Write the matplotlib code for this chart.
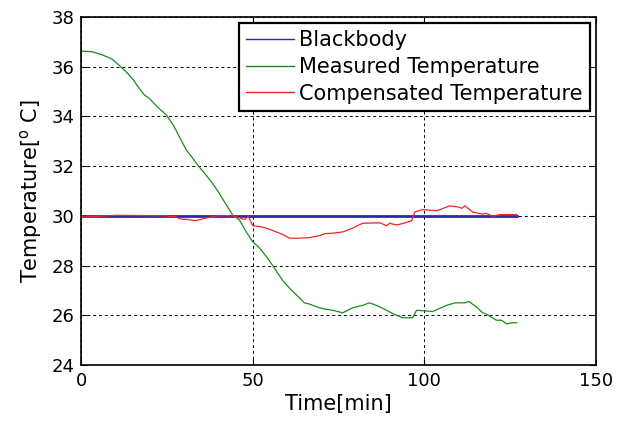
import matplotlib
matplotlib.use('Agg')
import matplotlib.pyplot as plt
import numpy as np

plt.rc('font', family='DejaVu Sans')

# measured temperature (green)
t_meas = [0, 3, 6, 9, 10.5, 13, 15, 17, 18.4, 20, 22, 24.8, 27, 28.5, 30.6, 32, 34.4,
          36, 38.3, 40, 42, 44.1, 46.1, 48.1, 50, 52, 54, 55.8, 57, 58.7, 61, 63.6,
          65, 66.5, 69.4, 71, 73.3, 76.2, 79.1, 82, 84, 86, 89, 91, 93.7, 96.6, 97.7,
          100, 102.4, 104, 106.5, 109, 111.8, 113, 115, 117, 118, 121, 122.5, 124, 125.5, 126.9]
T_meas = [36.62, 36.6, 36.48, 36.3, 36.12, 35.8, 35.5, 35.1, 34.86, 34.7, 34.4, 34.06,
          33.6, 33.2, 32.65, 32.4, 31.96, 31.7, 31.3, 30.95, 30.5, 30.03, 29.83, 29.35,
          28.95, 28.7, 28.35, 28.0, 27.75, 27.4, 27.05, 26.7, 26.5, 26.45, 26.3, 26.25,
          26.2, 26.1, 26.3, 26.4, 26.5, 26.4, 26.2, 26.05, 25.9, 25.9, 26.2, 26.18,
          26.15, 26.25, 26.4, 26.5, 26.5, 26.55, 26.35, 26.1, 26.05, 25.8, 25.8, 25.65, 25.7, 25.7]

# compensated temperature (red)
t_comp = [0, 1, 10, 24.8, 25.7, 27, 29, 31, 33.4, 36, 40, 44, 46, 47.6, 48.7, 50, 52.8,
          55, 58.7, 60.7, 63, 66.5, 69.4, 71, 73.2, 76.2, 79, 82, 87, 89, 89.9, 91.9,
          94, 96.3, 97.2, 99.5, 103.6, 107.4, 110, 110.9, 111.8, 114.1, 117, 118, 120,
          122, 126.9]
T_comp = [30.0, 29.95, 30.02, 30.0, 29.95, 29.98, 29.87, 29.85, 29.8, 29.9, 30.0, 30.0,
          29.92, 29.85, 29.98, 29.6, 29.55, 29.45, 29.25, 29.1, 29.1, 29.12, 29.2, 29.28,
          29.3, 29.35, 29.5, 29.7, 29.72, 29.6, 29.7, 29.63, 29.7, 29.8, 30.15, 30.25,
          30.2, 30.4, 30.35, 30.3, 30.4, 30.15, 30.07, 30.1, 29.98, 30.05, 30.05]

# blackbody reference
t_bb = [0, 127]
T_bb = [30.0, 30.0]

fig = plt.figure(figsize=(6.3, 4.21), dpi=100)
ax = fig.add_axes([0.129, 0.133, 0.817, 0.827])

ax.plot(t_bb, T_bb, color='#2b2ba0', lw=2, label='Blackbody')
ax.plot(t_meas, T_meas, color='#1a8c1a', lw=0.9, label='Measured Temperature')
ax.plot(t_comp, T_comp, color='#ff2020', lw=0.9, label='Compensated Temperature')

ax.set_xlim(0, 150)
ax.set_ylim(24, 38)
ax.set_xticks([0, 50, 100, 150])
ax.set_yticks(np.arange(24, 39, 2))
ax.tick_params(direction='in', top=True, right=True, labelsize=13, length=4, pad=5)
ax.grid(True, color='black', linestyle=(0, (3, 3)), linewidth=0.7)
for s in ax.spines.values():
    s.set_linewidth(1.2)

ax.set_xlabel('Time[min]', fontsize=15, labelpad=3)
ax.set_ylabel('Temperature[$^{\\mathrm{o}}$ C]', fontsize=15, labelpad=5)

leg = ax.legend(loc='upper right', fontsize=15, fancybox=False, framealpha=1,
                edgecolor='black', handlelength=2.3, handletextpad=0.25,
                borderaxespad=0.3, borderpad=0.35, labelspacing=0.32)
leg.get_frame().set_linewidth(1.6)
for h in leg.get_lines():
    h.set_linewidth(1)

fig.savefig('out.png', dpi=100)
